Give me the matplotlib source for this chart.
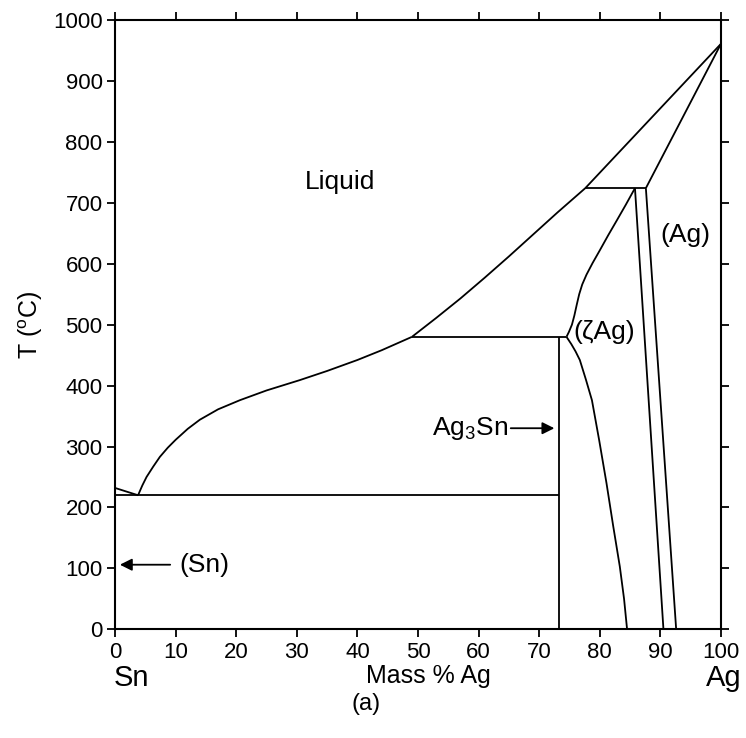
import matplotlib.pyplot as plt

plt.rcParams['font.family'] = ['Liberation Sans', 'DejaVu Sans']
plt.rcParams['mathtext.fontset'] = 'custom'
plt.rcParams['mathtext.rm'] = 'Liberation Sans'
plt.rcParams['mathtext.it'] = 'Liberation Sans:italic'

# --- phase boundaries, mass % Ag vs T (deg C) ---
sn_liq_x = [0, 3.8]
sn_liq_T = [232, 220]

liq_low_x = [3.8, 4.5, 5.2, 6.3, 7.4, 8.7, 10, 12, 14, 17, 20.6, 25, 30.5, 35, 40, 44, 49]
liq_low_T = [220, 236, 250, 267, 283, 298, 311, 329, 344, 361, 376, 392, 409, 424, 442, 458, 480]

liq_mid_x = [49, 53, 57, 61, 65, 69, 73, 77.6]
liq_mid_T = [480, 511, 543, 577, 612, 648, 684, 724]

liq_high_x = [77.6, 100]
liq_high_T = [724, 961]

ag_sol_x = [87.6, 100]
ag_sol_T = [724, 961]

zeta_up_x = [74.5, 74.9, 75.4, 75.8, 76.2, 76.6, 77.1, 77.8, 78.8, 80.0, 81.4, 82.8, 84.3, 85.8]
zeta_up_T = [480, 488, 500, 515, 533, 550, 566, 582, 601, 622, 647, 671, 697, 724]

zeta_low_x = [74.5, 75.3, 76.0, 76.7, 77.7, 78.7, 79.9, 81.1, 82.2, 83.3, 84.0, 84.5]
zeta_low_T = [480, 468, 456, 442, 410, 376, 310, 240, 170, 103, 50, 0]

zeta_solvus_x = [85.8, 90.5]
zeta_solvus_T = [724, 0]

ag_solvus_x = [87.6, 92.6]
ag_solvus_T = [724, 0]

ag3sn_x = [73.2, 73.2]
ag3sn_T = [0, 480]

eut_x = [0, 73.2]
eut_T = [221, 221]

peri480_x = [49, 74.5]
peri480_T = [480, 480]

peri724_x = [77.6, 87.6]
peri724_T = [724, 724]

x_ticks = list(range(0, 101, 10))
y_ticks = list(range(0, 1001, 100))


def plot_phase_diagram():
    fig = plt.figure(figsize=(7.46, 7.38), dpi=100)
    ax = fig.add_axes([0.1542, 0.1473, 0.8123, 0.8256])

    lines = [
        (sn_liq_x, sn_liq_T), (liq_low_x, liq_low_T), (liq_mid_x, liq_mid_T),
        (liq_high_x, liq_high_T), (ag_sol_x, ag_sol_T), (zeta_up_x, zeta_up_T),
        (zeta_low_x, zeta_low_T), (zeta_solvus_x, zeta_solvus_T),
        (ag_solvus_x, ag_solvus_T), (ag3sn_x, ag3sn_T), (eut_x, eut_T),
        (peri480_x, peri480_T), (peri724_x, peri724_T),
    ]
    for xs, ts in lines:
        ax.plot(xs, ts, color='black', lw=1.3, solid_capstyle='butt',
                solid_joinstyle='round')

    ax.set_xlim(0, 100)
    ax.set_ylim(0, 1000)
    ax.set_xticks(x_ticks)
    ax.set_yticks(y_ticks)
    ax.tick_params(direction='out', length=6, width=1.3, labelsize=16,
                   top=True, right=True, pad=3)
    for sp in ax.spines.values():
        sp.set_linewidth(1.5)

    ax.set_ylabel('T ($^{\\rm o}$C)', fontsize=18, labelpad=6)

    # region labels
    ax.text(37.1, 734, 'Liquid', fontsize=19, ha='center', va='center')
    ax.text(94.2, 647, '(Ag)', fontsize=19, ha='center', va='center')
    ax.text(75.6, 488, '(\u03b6Ag)', fontsize=19, ha='left', va='center')

    ax.annotate('', xy=(72.5, 330), xytext=(65.3, 330),
                arrowprops=dict(arrowstyle='-|>', color='black', lw=1.3,
                                mutation_scale=18, shrinkA=0, shrinkB=0))
    ax.text(64.8, 330, 'Ag$_3$Sn', fontsize=19, ha='right', va='center')

    ax.annotate('', xy=(0.8, 106), xytext=(9.1, 106),
                arrowprops=dict(arrowstyle='-|>', color='black', lw=1.3,
                                mutation_scale=18, shrinkA=0, shrinkB=0))
    ax.text(10.7, 106, '(Sn)', fontsize=19, ha='left', va='center')

    # labels under the axis
    fig.text(131 / 746, 1 - 678 / 738, 'Sn', fontsize=21, ha='center', va='center')
    fig.text(724 / 746, 1 - 678 / 738, 'Ag', fontsize=21, ha='center', va='center')
    fig.text(428 / 746, 1 - 676 / 738, 'Mass % Ag', fontsize=18, ha='center', va='center')
    fig.text(366 / 746, 1 - 704 / 738, '(a)', fontsize=17, ha='center', va='center')
    return fig, ax


if __name__ == "__main__":
    fig, ax = plot_phase_diagram()
    fig.savefig('out.png', dpi=100)
    plt.close(fig)
